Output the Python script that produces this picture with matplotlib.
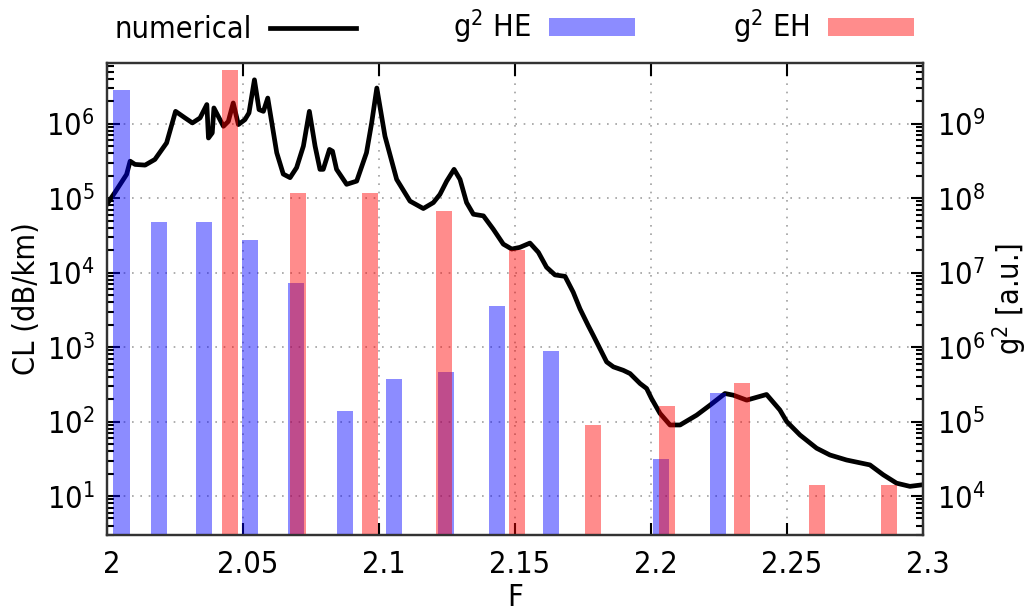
import numpy as np
import matplotlib
matplotlib.use("Agg")
import matplotlib.pyplot as plt
import matplotlib.transforms as mtransforms
from matplotlib.lines import Line2D
from matplotlib.patches import Patch
from matplotlib.ticker import LogLocator, FixedLocator, FixedFormatter, NullFormatter

plt.rcParams['font.family'] = ['DejaVu Sans']
plt.rcParams['font.stretch'] = 'condensed'
plt.rcParams['font.size'] = 22
plt.rcParams['mathtext.default'] = 'regular'

# numerical CL curve (left axis, dB/km)
F_num = [2.000, 2.0029, 2.0072, 2.0085, 2.0103, 2.0140, 2.0176, 2.0219, 2.0252, 2.0287,
         2.0314, 2.0342, 2.0367, 2.0373, 2.0387, 2.0393, 2.0428, 2.0446, 2.0464, 2.0483,
         2.0507, 2.0522, 2.0542, 2.0559, 2.0575, 2.0591, 2.0624, 2.0648, 2.0673, 2.0697,
         2.0722, 2.0744, 2.0765, 2.0783, 2.0795, 2.0818, 2.0829, 2.0844, 2.0881, 2.0918,
         2.0954, 2.0973, 2.0992, 2.1022, 2.1065, 2.1114, 2.1163, 2.1200, 2.1224, 2.1249,
         2.1276, 2.1298, 2.1322, 2.1347, 2.1384, 2.1420, 2.1457, 2.1488, 2.1518, 2.1555,
         2.1586, 2.1616, 2.1647, 2.1684, 2.1714, 2.1739, 2.1769, 2.1788, 2.1837, 2.1862,
         2.1898, 2.1923, 2.1960, 2.1984, 2.2002, 2.2033, 2.2070, 2.2107, 2.2168, 2.2217,
         2.2272, 2.2303, 2.2352, 2.2425, 2.2474, 2.2499, 2.2548, 2.2609, 2.2658, 2.2719,
         2.2805, 2.2854, 2.2903, 2.2952, 2.3000]
CL_num = [8.3e4, 1.19e5, 2.08e5, 3.13e5, 2.83e5, 2.77e5, 3.3e5, 5.5e5, 1.46e6, 1.19e6,
          1.02e6, 1.19e6, 1.8e6, 6.4e5, 7.5e5, 1.62e6, 9.2e5, 1.07e6, 1.89e6, 9.7e5,
          1.13e6, 1.39e6, 3.87e6, 1.54e6, 1.46e6, 2.2e6, 4.06e5, 2.1e5, 1.88e5, 2.56e5,
          4.98e5, 1.46e6, 4.98e5, 2.43e5, 2.43e5, 4.5e5, 4.26e5, 2.43e5, 1.53e5, 1.69e5,
          4.06e5, 1.02e6, 3.0e6, 6.76e5, 1.78e5, 9.1e4, 7.24e4, 8.7e4, 1.12e5, 1.69e5,
          2.43e5, 1.78e5, 8.7e4, 6.07e4, 5.77e4, 3.83e4, 2.41e4, 2.07e4, 2.18e4, 2.49e4,
          1.87e4, 1.18e4, 9.3e3, 8.9e3, 5.46e3, 3.26e3, 1.95e3, 1.43e3, 632, 542,
          488, 441, 324, 278, 204, 129, 90, 90, 122, 166,
          238, 226, 194, 231, 143, 100, 66, 43.9, 35.6, 30.5,
          26.2, 19.3, 14.9, 13.5, 14.2]

# g^2 bars (right axis, a.u.)
he_F = [2.0053, 2.0191, 2.0357, 2.0526, 2.0695, 2.0875, 2.1055, 2.1246, 2.1434, 2.1632, 2.2037, 2.2246]
he_g2 = [2.85e9, 4.74e7, 4.74e7, 2.75e7, 7.26e6, 1.4e5, 3.78e5, 4.64e5, 3.55e6, 8.87e5, 3.1e4, 2.4e5]
eh_F = [2.0452, 2.0702, 2.0967, 2.1239, 2.1507, 2.1787, 2.2059, 2.2335, 2.2610, 2.2875]
eh_g2 = [5.16e9, 1.16e8, 1.16e8, 6.7e7, 2.02e7, 8.9e4, 1.63e5, 3.25e5, 1.4e4, 1.4e4]

xticks = [2.0, 2.05, 2.1, 2.15, 2.2, 2.25, 2.3]
xticklabels = ['2', '2.05', '2.1', '2.15', '2.2', '2.25', '2.3']

fig = plt.figure(figsize=(10.31, 6.13), dpi=100)
ax = fig.add_axes([0.1038, 0.1272, 0.7914, 0.77])
ax2 = ax.twinx()

ax.plot(F_num, CL_num, color='black', lw=3.4, solid_joinstyle='round')
ax.set_yscale('log')
ax.set_ylim(3, 6.5e6)
ax.set_xlim(2.0, 2.3)

bw = 0.006
ax2.bar(he_F, he_g2, width=bw, bottom=1, color=(0, 0, 1, 0.45), edgecolor='none')
ax2.bar(eh_F, eh_g2, width=bw, bottom=1, color=(1, 0, 0, 0.45), edgecolor='none')
ax2.set_yscale('log')
ax2.set_ylim(3e3, 6.5e9)

ax.xaxis.set_major_locator(FixedLocator(xticks))
ax.xaxis.set_major_formatter(FixedFormatter(xticklabels))
ax.yaxis.set_major_locator(LogLocator(base=10, numticks=20))
ax.yaxis.set_minor_locator(LogLocator(base=10, subs=np.arange(2, 10), numticks=20))
ax.yaxis.set_minor_formatter(NullFormatter())
ax2.yaxis.set_major_locator(LogLocator(base=10, numticks=20))
ax2.yaxis.set_minor_locator(LogLocator(base=10, subs=np.arange(2, 10), numticks=20))
ax2.yaxis.set_minor_formatter(NullFormatter())

ax.tick_params(axis='x', which='both', direction='in', top=True, bottom=True, length=9, width=1.5, pad=11, labelsize=22)
ax.tick_params(axis='y', which='major', direction='in', left=True, right=False, length=9, width=1.5, pad=9, labelsize=22)
ax.tick_params(axis='y', which='minor', direction='in', left=True, right=False, length=5, width=1.5)
ax2.tick_params(axis='y', which='major', direction='in', right=True, length=9, width=1.5, pad=10, labelsize=22)
ax2.tick_params(axis='y', which='minor', direction='in', right=True, length=5, width=1.5)

# gnuplot-like small shift of x tick labels
shift = mtransforms.ScaledTranslation(5 / 100, 0, fig.dpi_scale_trans)
for lab in ax.get_xticklabels():
    lab.set_transform(lab.get_transform() + shift)

ax.grid(True, which='major', color='#a0a0a0', linestyle=(0, (1, 4)), lw=1.2)

for a in (ax, ax2):
    for s in a.spines.values():
        s.set_linewidth(1.6)
        s.set_color('#333333')

ax.set_xlabel('F', fontsize=22, labelpad=3)
ax.set_ylabel('CL (dB/km)', fontsize=22, labelpad=4)
ax2.set_ylabel('g$^2$ [a.u.]', fontsize=22, labelpad=4)

handles = [Line2D([], [], color='black', lw=3.4),
           Patch(facecolor=(0, 0, 1, 0.45), edgecolor='none'),
           Patch(facecolor=(1, 0, 0, 0.45), edgecolor='none')]
labels = ['numerical', 'g$^2$ HE', 'g$^2$ EH']
fig.legend(handles, labels, loc='center', bbox_to_anchor=(0.4985, 0.956), ncol=3,
           frameon=False, markerfirst=False, fontsize=22, handlelength=2.8,
           handleheight=0.56, handletextpad=0.6, columnspacing=3.2)

fig.savefig('out.png', dpi=100)
